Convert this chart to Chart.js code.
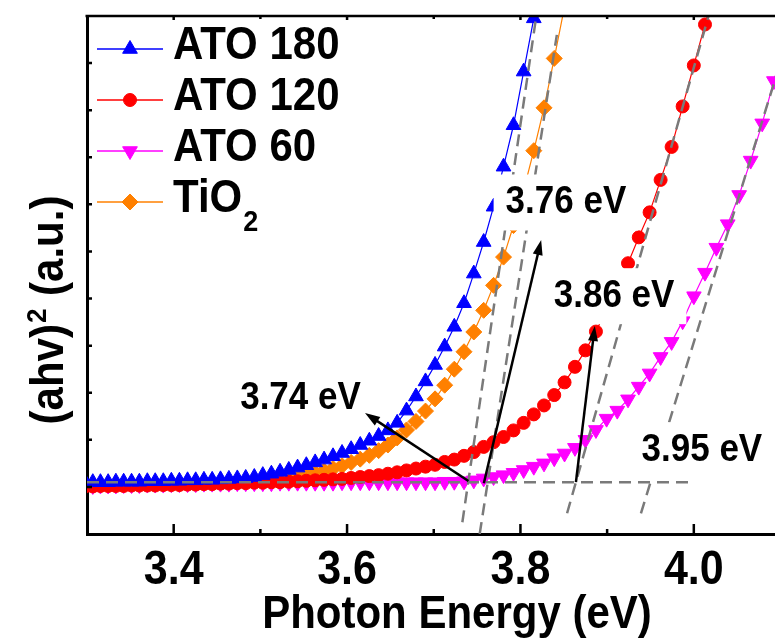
<!DOCTYPE html>
<html>
<head>
<meta charset="utf-8">
<script src="https://cdn.jsdelivr.net/npm/chart.js@4.4.1/dist/chart.umd.min.js"></script>
<style>
  html, body { margin: 0; padding: 0; background: #fff; overflow: hidden; }
  #wrap { width: 790px; height: 644px; }
</style>
</head>
<body>
<div id="wrap"><canvas id="chart" width="790" height="644"></canvas></div>
<script>
// photon energy of each sample (eV)
const energy = [
  3.2979, 3.3067, 3.3155, 3.3244, 3.3333, 3.3423, 3.3514, 3.3604, 3.3696, 3.3787,
  3.3880, 3.3973, 3.4066, 3.4160, 3.4254, 3.4349, 3.4444, 3.4540, 3.4637, 3.4734,
  3.4831, 3.4930, 3.5028, 3.5127, 3.5227, 3.5328, 3.5429, 3.5530, 3.5632, 3.5735,
  3.5838, 3.5942, 3.6047, 3.6152, 3.6257, 3.6364, 3.6471, 3.6578, 3.6686, 3.6795,
  3.6905, 3.7015, 3.7126, 3.7237, 3.7349, 3.7462, 3.7576, 3.7690, 3.7805, 3.7920,
  3.8037, 3.8154, 3.8272, 3.8390, 3.8509, 3.8629, 3.8750, 3.8871, 3.8994, 3.9117,
  3.9241, 3.9365, 3.9490, 3.9617, 3.9744, 3.9871, 4.0000, 4.0129, 4.0260, 4.0391,
  4.0523, 4.0656, 4.0789, 4.0924, 4.1060
];

// (ahv)^2, arbitrary units
const ato180 = [
  1.10, 1.10, 1.10, 1.10, 1.11, 1.11, 1.11, 1.11, 1.12, 1.12,
  1.12, 1.13, 1.13, 1.14, 1.14, 1.15, 1.15, 1.16, 1.17, 1.18,
  1.19, 1.21, 1.25, 1.28, 1.32, 1.36, 1.41, 1.46, 1.52, 1.58,
  1.65, 1.72, 1.80, 1.89, 1.98, 2.08, 2.20, 2.36, 2.62, 2.92,
  3.24, 3.59, 3.98, 4.40, 4.90, 5.53, 6.20, 6.95, 7.80, 8.68,
  9.82, 10.95, 12.1
];
const ato120 = [
  1.01, 1.01, 1.02, 1.02, 1.02, 1.02, 1.03, 1.03, 1.03, 1.03,
  1.04, 1.04, 1.04, 1.05, 1.05, 1.06, 1.06, 1.07, 1.07, 1.08,
  1.08, 1.09, 1.09, 1.10, 1.10, 1.11, 1.12, 1.13, 1.14, 1.15,
  1.16, 1.17, 1.19, 1.21, 1.23, 1.25, 1.28, 1.31, 1.35, 1.39,
  1.43, 1.47, 1.53, 1.58, 1.66, 1.74, 1.85, 1.95, 2.06, 2.20,
  2.36, 2.54, 2.73, 2.95, 3.22, 3.55, 3.90, 4.30, 4.78, 5.25,
  5.75, 6.30, 6.83, 7.52, 8.22, 9.08, 9.95, 10.82, 11.7
];
const ato60 = [
  1.02, 1.02, 1.03, 1.03, 1.03, 1.04, 1.04, 1.04, 1.05, 1.05,
  1.05, 1.06, 1.06, 1.06, 1.06, 1.07, 1.07, 1.07, 1.07, 1.08,
  1.08, 1.08, 1.08, 1.08, 1.09, 1.09, 1.09, 1.09, 1.09, 1.09,
  1.09, 1.10, 1.10, 1.10, 1.10, 1.10, 1.10, 1.10, 1.10, 1.10,
  1.10, 1.10, 1.11, 1.11, 1.12, 1.14, 1.18, 1.21, 1.25, 1.30,
  1.36, 1.43, 1.50, 1.61, 1.71, 1.83, 2.00, 2.21, 2.45, 2.62,
  2.86, 3.13, 3.41, 3.76, 4.08, 4.52, 5.05, 5.55, 6.08, 6.58,
  7.20, 7.93, 8.72, 9.62, 10.5
];
const tio2 = [
  1.03, 1.03, 1.03, 1.03, 1.04, 1.04, 1.04, 1.04, 1.05, 1.05,
  1.05, 1.05, 1.06, 1.06, 1.06, 1.07, 1.07, 1.08, 1.08, 1.09,
  1.10, 1.11, 1.13, 1.15, 1.17, 1.20, 1.23, 1.26, 1.30, 1.34,
  1.39, 1.45, 1.52, 1.59, 1.67, 1.77, 1.89, 2.04, 2.21, 2.39,
  2.61, 2.87, 3.16, 3.50, 3.87, 4.29, 4.75, 5.28, 5.88, 6.55,
  7.30, 8.14, 9.05, 10.10, 11.2
];

const seriesNames = ['ATO 180', 'ATO 120', 'ATO 60', 'TiO₂'];
const xTicks = [3.4, 3.6, 3.8, 4.0];
const xMinorTicks = [3.5, 3.7, 3.9];
const yTicks = [1, 2, 3, 4, 5, 6, 7, 8, 9, 10];

// band gap extrapolation
const bandGaps = [3.74, 3.76, 3.86, 3.95];
const baselineLevel = 1.10;
const baselineRange = [3.30, 4.00];
// linear fits: [E start, value start, E end, value end]
const tangentFits = [
  [3.7330, 0.25, 3.8191, 11.1],
  [3.7530, 0.00, 3.8420, 10.6],
  [3.8538, 0.44, 4.0185, 11.1],
  [3.9390, 0.44, 4.1080, 10.5]
];

// ---- look ----
const FONT = '"Liberation Sans", Arial, Helvetica, sans-serif';
const seriesColors = ['#0000FF', '#FF0000', '#FF00FF', '#FF8000'];
const seriesMarkers = ['triangle', 'circle', 'triangleDown', 'rectRot'];
const markerSize = [8.5, 6.5, 8.5, 8];

// where the labels and arrows sit (data units)
const annotationLayout = [
  { label: [3.5463, 2.89], tail: [3.7400, 1.125], head: [3.6207, 2.569] },
  { label: [3.8525, 7.04], tail: [3.7578, 1.076], head: [3.8239, 6.242] },
  { label: [3.9080, 5.05], tail: [3.8640, 1.100], head: [3.8858, 4.416] },
  { label: [4.0093, 1.78], tail: null, head: null }
];

const toPoints = vals => energy
  .map((e, i) => ({ x: e, y: vals[i] }))
  .filter(p => p.y !== undefined && p.y !== null);

const seriesData = [ato180, ato120, ato60, tio2];

const curveSets = seriesData.map((vals, i) => ({
  label: seriesNames[i],
  data: toPoints(vals),
  borderColor: seriesColors[i],
  backgroundColor: seriesColors[i],
  pointBackgroundColor: seriesColors[i],
  pointBorderColor: seriesColors[i],
  borderWidth: 1.2,
  pointBorderWidth: 1,
  pointRadius: markerSize[i],
  pointStyle: seriesMarkers[i] === 'triangleDown' ? 'triangle' : seriesMarkers[i],
  pointRotation: seriesMarkers[i] === 'triangleDown' ? 180 : 0,
  tension: 0,
  order: 1
}));

const dashed = {
  borderColor: '#7a7a7a',
  borderWidth: 2.5,
  borderDash: [12, 7],
  pointRadius: 0,
  fill: false,
  order: 0
};

const fitSets = tangentFits.map(f => ({
  ...dashed,
  label: 'fit',
  data: [{ x: f[0], y: f[1] }, { x: f[2], y: f[3] }]
}));

const baselineSet = {
  ...dashed,
  label: 'baseline',
  data: [{ x: baselineRange[0], y: baselineLevel }, { x: baselineRange[1], y: baselineLevel }]
};

// text a little taller than the font's own proportions, as in the figure
function tallText(ctx, text, x, y, size, stretch, align, baseline) {
  ctx.save();
  ctx.translate(x, y);
  ctx.scale(1, stretch);
  ctx.font = 'bold ' + size + 'px ' + FONT;
  ctx.textAlign = align;
  ctx.textBaseline = baseline;
  ctx.fillText(text, 0, 0);
  const w = ctx.measureText(text).width;
  ctx.restore();
  return w;
}

function marker(ctx, style, x, y, r, color) {
  ctx.save();
  ctx.fillStyle = color;
  ctx.strokeStyle = color;
  ctx.lineWidth = 1;
  ctx.beginPath();
  if (style === 'circle') {
    ctx.arc(x, y, r, 0, Math.PI * 2);
  } else if (style === 'rectRot') {
    ctx.moveTo(x - r, y); ctx.lineTo(x, y - r); ctx.lineTo(x + r, y); ctx.lineTo(x, y + r);
  } else {
    const s = style === 'triangleDown' ? -1 : 1;
    const h = r * Math.sin(Math.PI * 2 / 3);
    ctx.moveTo(x, y - s * r);
    ctx.lineTo(x + h, y + s * r / 2);
    ctx.lineTo(x - h, y + s * r / 2);
  }
  ctx.closePath();
  ctx.fill();
  ctx.stroke();
  ctx.restore();
}

function drawArrow(ctx, x1, y1, x2, y2) {
  const ang = Math.atan2(y2 - y1, x2 - x1);
  const len = 15, half = 5;
  const cx = x2 - Math.cos(ang) * len, cy = y2 - Math.sin(ang) * len;
  ctx.save();
  ctx.strokeStyle = '#000';
  ctx.fillStyle = '#000';
  ctx.lineWidth = 2.5;
  ctx.beginPath();
  ctx.moveTo(x1, y1);
  ctx.lineTo(cx + Math.cos(ang) * 3, cy + Math.sin(ang) * 3);
  ctx.stroke();
  ctx.beginPath();
  ctx.moveTo(x2, y2);
  ctx.lineTo(cx - Math.sin(ang) * half, cy + Math.cos(ang) * half);
  ctx.lineTo(cx + Math.sin(ang) * half, cy - Math.cos(ang) * half);
  ctx.closePath();
  ctx.fill();
  ctx.restore();
}

const overlay = {
  id: 'overlay',
  afterDatasetsDraw(chart) {
    const { ctx, scales: { x, y } } = chart;
    ctx.save();
    ctx.font = 'bold 35px ' + FONT;
    annotationLayout.forEach((a, i) => {
      const text = bandGaps[i].toFixed(2) + ' eV';
      const px = x.getPixelForValue(a.label[0]);
      const py = y.getPixelForValue(a.label[1]);
      const w = ctx.measureText(text).width;
      ctx.fillStyle = '#fff';
      ctx.fillRect(px - w / 2 - 12, py - 28, w + 24, 56);
      ctx.fillStyle = '#000';
      tallText(ctx, text, px, py, 35, 1.12, 'center', 'middle');
    });
    ctx.restore();
    annotationLayout.forEach(a => {
      if (!a.tail) return;
      drawArrow(ctx,
        x.getPixelForValue(a.tail[0]), y.getPixelForValue(a.tail[1]),
        x.getPixelForValue(a.head[0]), y.getPixelForValue(a.head[1]));
    });
  },
  afterDraw(chart) {
    const { ctx, chartArea: area, scales: { x, y } } = chart;
    ctx.save();
    ctx.strokeStyle = '#000';

    // top frame line
    ctx.lineWidth = 2.5;
    ctx.beginPath();
    ctx.moveTo(area.left - 1.5, area.top);
    ctx.lineTo(chart.width, area.top);
    ctx.stroke();

    // inward ticks
    ctx.lineWidth = 2.5;
    ctx.beginPath();
    xTicks.forEach(v => {
      const p = x.getPixelForValue(v);
      ctx.moveTo(p, area.bottom); ctx.lineTo(p, area.bottom - 10);
      ctx.moveTo(p, area.top); ctx.lineTo(p, area.top + 4);
    });
    xMinorTicks.forEach(v => {
      const p = x.getPixelForValue(v);
      ctx.moveTo(p, area.bottom); ctx.lineTo(p, area.bottom - 5);
      ctx.moveTo(p, area.top); ctx.lineTo(p, area.top + 3);
    });
    yTicks.forEach(v => {
      const p = y.getPixelForValue(v);
      ctx.moveTo(area.left, p); ctx.lineTo(area.left + 5, p);
    });
    ctx.stroke();

    ctx.fillStyle = '#000';

    // tick labels, placed by the x scale
    xTicks.forEach(v => {
      tallText(ctx, v.toFixed(1), x.getPixelForValue(v), 571, 43, 1.12, 'center', 'middle');
    });

    // axis titles
    tallText(ctx, 'Photon Energy (eV)', 457, 628, 42, 1.08, 'center', 'alphabetic');

    ctx.save();
    ctx.translate(63, 310);
    ctx.rotate(-Math.PI / 2);
    ctx.scale(1, 1.08);
    const partA = '(ahv)', partB = '2', partC = ' (a.u.)';
    ctx.font = 'bold 42px ' + FONT;
    const wA = ctx.measureText(partA).width, wC = ctx.measureText(partC).width;
    ctx.font = 'bold 26px ' + FONT;
    const wB = ctx.measureText(partB).width + 2;
    const sx = -(wA + wB + wC) / 2;
    ctx.textAlign = 'left';
    ctx.textBaseline = 'alphabetic';
    ctx.font = 'bold 42px ' + FONT;
    ctx.fillText(partA, sx, 0);
    ctx.font = 'bold 26px ' + FONT;
    ctx.fillText(partB, sx + wA + 1, -16);
    ctx.font = 'bold 42px ' + FONT;
    ctx.fillText(partC, sx + wA + wB, 0);
    ctx.restore();

    // legend
    chart.data.datasets.slice(0, seriesNames.length).forEach((ds, i) => {
      const cy = 49 + i * 51;
      ctx.strokeStyle = seriesColors[i];
      ctx.lineWidth = 1.5;
      ctx.beginPath();
      ctx.moveTo(97, cy); ctx.lineTo(163, cy);
      ctx.stroke();
      marker(ctx, seriesMarkers[i], 130, cy, markerSize[i], seriesColors[i]);
      ctx.fillStyle = '#000';
      let label = ds.label, sub = '';
      if (label.endsWith('₂')) { label = label.slice(0, -1); sub = '2'; }
      const w = tallText(ctx, label, 173, cy + 10, 42, 1.1, 'left', 'alphabetic');
      if (sub) tallText(ctx, sub, 173 + w + 1, cy + 29, 27, 1.1, 'left', 'alphabetic');
    });
    ctx.restore();
  }
};

new Chart(document.getElementById('chart'), {
  type: 'line',
  data: { datasets: [...curveSets, ...fitSets, baselineSet] },
  options: {
    responsive: false,
    animation: false,
    layout: { padding: { top: 16, right: 5, left: 0, bottom: 0 } },
    plugins: { legend: { display: false }, tooltip: { enabled: false } },
    scales: {
      x: {
        type: 'linear',
        min: 3.3,
        max: 4.1,
        afterBuildTicks: s => { s.ticks = xTicks.map(v => ({ value: v })); },
        afterFit: s => { s.height = 110; },
        ticks: { display: false },
        grid: { display: false, drawTicks: false },
        border: { display: true, color: '#000', width: 3 }
      },
      y: {
        type: 'linear',
        min: 0,
        max: 11,
        afterFit: s => { s.width = 87; },
        ticks: { display: false },
        grid: { display: false, drawTicks: false },
        border: { display: true, color: '#000', width: 3 }
      }
    }
  },
  plugins: [overlay]
});
</script>
</body>
</html>
